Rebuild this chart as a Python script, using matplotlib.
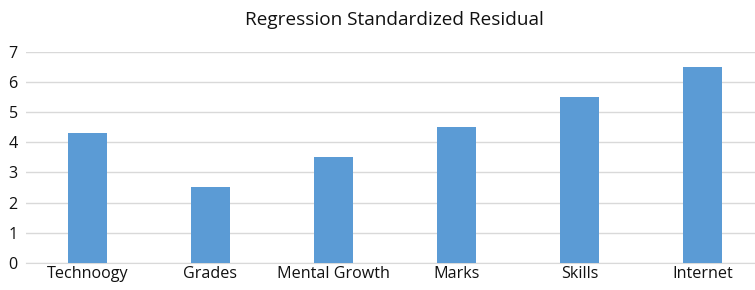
import numpy as np
import matplotlib.pyplot as plt

categories = ["Technoogy", "Grades", "Mental Growth", "Marks", "Skills", "Internet"]
values = [4.3, 2.5, 3.5, 4.5, 5.5, 6.5]

plt.rcParams['font.family'] = ['Open Sans', 'DejaVu Sans']

fig = plt.figure(figsize=(7.55, 2.9), dpi=100)
ax = fig.add_axes([0.0344, 0.094, 0.9775, 0.7266])

x = np.arange(len(categories))
ax.bar(x, values, width=0.317, color="#5B9BD5", zorder=3)

ax.set_xlim(-0.5, len(categories) - 0.5)
ax.set_ylim(0, 7)
ax.set_yticks(range(0, 8))
ax.set_xticks(x)
ax.set_xticklabels(categories)
ax.grid(axis="y", color="#d9d9d9", linewidth=1, zorder=0)
for s in ["top", "right", "left"]:
    ax.spines[s].set_visible(False)
ax.spines["bottom"].set_color("#d9d9d9")
ax.tick_params(length=0, labelsize=11.6, colors="#111111", pad=2)
ax.tick_params(axis="y", pad=6)
fig.text(0.523, 0.93, "Regression Standardized Residual", ha="center", va="center",
         fontsize=13.7, color="#111111")

plt.savefig("out.png", dpi=100)
